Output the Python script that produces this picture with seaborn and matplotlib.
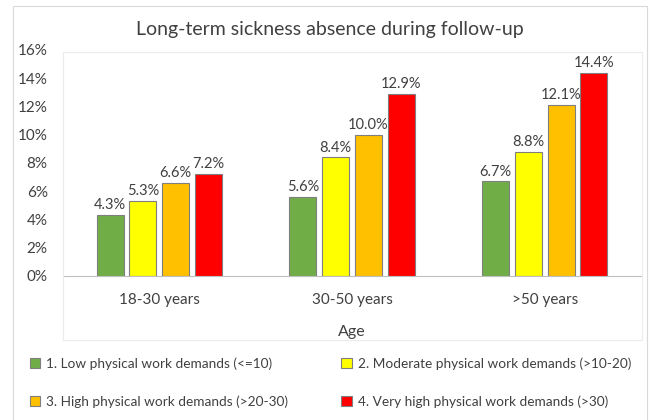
import matplotlib
matplotlib.use("Agg")
import matplotlib.pyplot as plt
from matplotlib.patches import Rectangle
from matplotlib.ticker import FuncFormatter
import numpy as np
import pandas as pd
import seaborn as sns

# 數據
age_groups = ['18-30 years', '30-50 years', '>50 years']
demand_levels = ['1. Low physical work demands (<=10)',
                 '2. Moderate physical work demands (>10-20)',
                 '3. High physical work demands (>20-30)',
                 '4. Very high physical work demands (>30)']
low = [4.3, 5.6, 6.7]
moderate = [5.3, 8.4, 8.8]
high = [6.6, 10.0, 12.1]
very_high = [7.2, 12.9, 14.4]
colors = ['#70AD47', '#FFFF00', '#FFC000', '#FF0000']

df = pd.DataFrame({
    'Age': age_groups * 4,
    'Demand': [d for d in demand_levels for _ in age_groups],
    'Value': low + moderate + high + very_high,
})

sns.set_style('white')
plt.rcParams['font.family'] = ['Lato', 'DejaVu Sans']

fig = plt.figure(figsize=(6.53, 4.2), dpi=100)
ax = fig.add_axes([63 / 653, 0.343, 578 / 653, 0.538])

sns.barplot(data=df, x='Age', y='Value', hue='Demand', palette=colors,
            saturation=1, width=0.68, gap=0.176, edgecolor='#7f7f7f',
            linewidth=0.8, errorbar=None, ax=ax, legend=True)

for cont in ax.containers:
    ax.bar_label(cont, fmt='%.1f%%', padding=2, fontsize=10.5, color='#404040')

ax.set_ylim(0, 16)
ax.set_yticks(np.arange(0, 17, 2))
ax.yaxis.set_major_formatter(FuncFormatter(lambda v, p: f'{v:.0f}%'))
ax.set_xlim(-0.5, 2.5)
ax.tick_params(axis='both', labelsize=11, colors='#404040', length=0)
ax.tick_params(axis='y', pad=11)
ax.tick_params(axis='x', pad=12)
for s in ['top', 'right', 'left']:
    ax.spines[s].set_visible(False)
ax.spines['bottom'].set_color('#bfbfbf')
ax.set_ylabel('')
ax.set_xlabel('Age', fontsize=11.5, color='#404040', labelpad=13)
ax.set_title('Long-term sickness absence during follow-up', fontsize=14,
             color='#404040', pad=11, x=0.462)

handles, labels = ax.get_legend_handles_labels()
ax.legend_.remove()
order = [0, 2, 1, 3]  # 兩欄排列: 1,2 / 3,4
fig.legend([handles[i] for i in order], [labels[i] for i in order],
           loc='lower left', bbox_to_anchor=(0.027, 0.0),
           ncol=2, frameon=False, fontsize=9.8, handlelength=0.75,
           handleheight=0.75, columnspacing=3.9, labelspacing=1.85,
           handletextpad=0.45, labelcolor='#404040')

# 外框 & 繪圖區邊框
fig.patches.append(Rectangle((13 / 653, -0.05), 634 / 653, 1.05 - 6 / 420,
                             transform=fig.transFigure, fill=False,
                             edgecolor='#d9d9d9', linewidth=0.8))
fig.patches.append(Rectangle((63 / 653, 1 - 340 / 420), 579 / 653, 288 / 420,
                             transform=fig.transFigure, fill=False,
                             edgecolor='#ececec', linewidth=0.8))

plt.savefig('out.png', dpi=100)
plt.close()
